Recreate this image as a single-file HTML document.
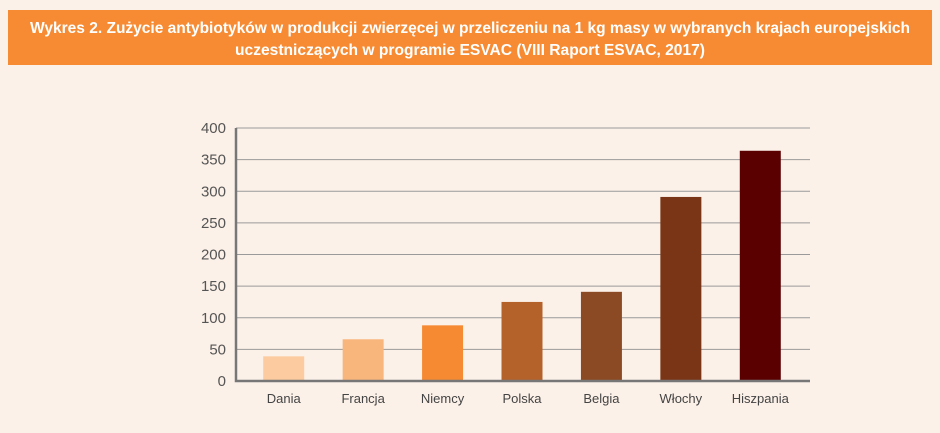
<!DOCTYPE html>
<html><head><meta charset="utf-8">
<style>
html,body{margin:0;padding:0;background:#fcf1e8;}
svg{display:block;font-family:"Liberation Sans Narrow","Liberation Sans",sans-serif;}
</style></head>
<body>
<svg id="chart" width="940" height="433" viewBox="0 0 940 433">
  <rect x="0" y="0" width="940" height="433" fill="#fcf1e8"/>
  <rect x="8" y="10" width="924" height="55" fill="#f68b33"/>
  <text x="470" y="33" text-anchor="middle" fill="#fff" font-weight="bold" font-size="16" textLength="880" lengthAdjust="spacingAndGlyphs">Wykres 2. Zużycie antybiotyków w produkcji zwierzęcej w przeliczeniu na 1 kg masy w wybranych krajach europejskich</text>
  <text x="470" y="55" text-anchor="middle" fill="#fff" font-weight="bold" font-size="16" textLength="470" lengthAdjust="spacingAndGlyphs">uczestniczących w programie ESVAC (VIII Raport ESVAC, 2017)</text>
  <g id="grid"></g>
  <g id="bars"></g>
  <g id="labels"></g>
</svg>
<script>
const categories = ["Dania","Francja","Niemcy","Polska","Belgia","Włochy","Hiszpania"];
const values = [39, 66, 88, 125, 141, 291, 364];
const barColors = ["#fccb9f","#f9b67c","#f58a33","#b5622a","#8b4a23","#7a3516","#5a0000"];
const yTicks = [0, 50, 100, 150, 200, 250, 300, 350, 400];

const NS = "http://www.w3.org/2000/svg";
const plotLeft = 244, plotRight = 800, axisX = 236, axisEnd = 810;
const y0 = 381, yTop = 128, yMax = 400;
function yScale(v){ return y0 - (v / yMax) * (y0 - yTop); }
const band = (plotRight - plotLeft) / categories.length;
function xCenter(i){ return plotLeft + band * (i + 0.5); }
const barW = 41;

const grid = document.getElementById('grid');
yTicks.forEach(t => {
  const y = yScale(t);
  if (t > 0) {
    const l = document.createElementNS(NS, 'line');
    l.setAttribute('x1', axisX); l.setAttribute('x2', axisEnd);
    l.setAttribute('y1', y); l.setAttribute('y2', y);
    l.setAttribute('stroke', '#9a9a9a'); l.setAttribute('stroke-width', '1');
    
    
    grid.appendChild(l);
  }
  const tx = document.createElementNS(NS, 'text');
  tx.setAttribute('x', 226); tx.setAttribute('y', y + 5);
  tx.setAttribute('text-anchor', 'end');
  tx.setAttribute('font-size', '15'); tx.setAttribute('fill', '#555');
  tx.textContent = t;
  
  
  grid.appendChild(tx);
});

const bars = document.getElementById('bars');
const labels = document.getElementById('labels');
categories.forEach((c, i) => {
  const r = document.createElementNS(NS, 'rect');
  const top = yScale(values[i]);
  r.setAttribute('x', xCenter(i) - barW / 2);
  r.setAttribute('y', top);
  r.setAttribute('width', barW);
  r.setAttribute('height', y0 - top);
  r.setAttribute('fill', barColors[i]);
  
  
  bars.appendChild(r);
  const t = document.createElementNS(NS, 'text');
  t.setAttribute('x', xCenter(i)); t.setAttribute('y', 403);
  t.setAttribute('text-anchor', 'middle');
  t.setAttribute('font-size', '13'); t.setAttribute('fill', '#444');
  t.textContent = c;
  
  
  labels.appendChild(t);
});

const ax = document.createElementNS(NS, 'path');
ax.setAttribute('d', `M${axisX} ${yTop} L${axisX} ${y0} L${axisEnd} ${y0}`);
ax.setAttribute('fill', 'none'); ax.setAttribute('stroke', '#777'); ax.setAttribute('stroke-width', '2.5');


labels.appendChild(ax);
</script>
</body></html>
